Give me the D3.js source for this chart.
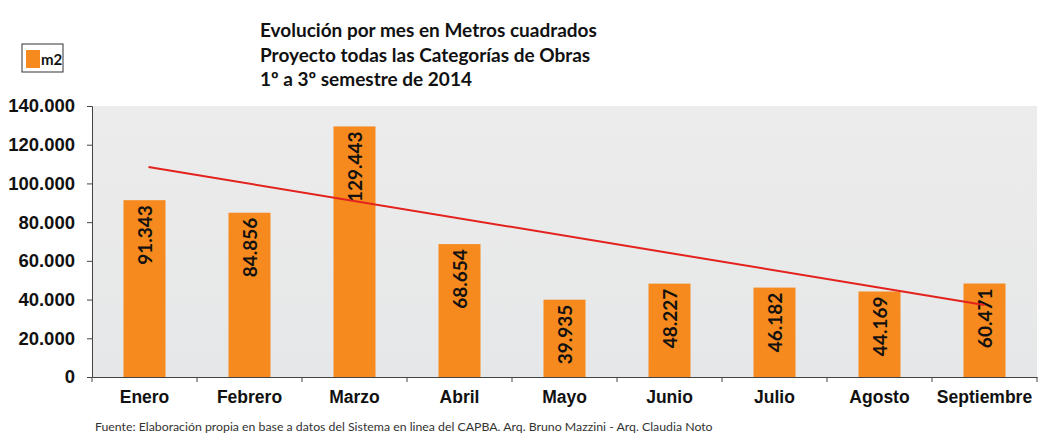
<!DOCTYPE html>
<html>
<head>
<meta charset="utf-8">
<script src="https://cdn.jsdelivr.net/npm/d3@7"></script>
<style>
  body { margin: 0; background: #fff; }
  svg { display: block; font-family: Lato, "Open Sans", sans-serif; }
</style>
</head>
<body>
<svg width="1064" height="440"></svg>
<script>
// months on the x axis
const months = ["Enero", "Febrero", "Marzo", "Abril", "Mayo", "Junio", "Julio", "Agosto", "Septiembre"]
// bar heights as drawn (m2)
const m2 = [91343, 84856, 129443, 68654, 39935, 48227, 46182, 44169, 48300]
// labels printed inside the bars
const barLabels = ["91.343", "84.856", "129.443", "68.654", "39.935", "48.227", "46.182", "44.169", "60.471"]
// trend line end points (first month, last month)
const trendMonths = ["Enero", "Septiembre"]
const trendValues = [108500, 37200]
const yTicks = [0, 20000, 40000, 60000, 80000, 100000, 120000, 140000]
const titleLines = ["Evolución por mes en Metros cuadrados", "Proyecto todas las Categorías de Obras", "1º a 3º semestre de 2014"]
const footer = "Fuente: Elaboración propia en base a datos del Sistema en linea del CAPBA. Arq. Bruno Mazzini - Arq. Claudia Noto"

const svg = d3.select('svg')
const plotL = 92, plotR = 1037, plotT = 106, plotB = 377

const x = d3.scaleBand().domain(months).range([plotL, plotR]).paddingInner(0.6).paddingOuter(0.3)
const xb = d3.scaleBand().domain(months).range([plotL, plotR])
const y = d3.scaleLinear().domain([0, 140000]).range([plotB, plotT])

const fmt = d => d === 0 ? "0" : d3.format(",")(d).replace(/,/g, ".")

// plot background
const grad = svg.append('defs').append('linearGradient').attr('id', 'bg').attr('x1', 0).attr('y1', 0).attr('x2', 0).attr('y2', 1)
grad.append('stop').attr('offset', '0%').attr('stop-color', '#ececec')
grad.append('stop').attr('offset', '100%').attr('stop-color', '#e6e7e8')
svg.append('rect')
  .attr('x', plotL).attr('y', plotT)
  .attr('width', plotR - plotL).attr('height', plotB - plotT)
  .attr('fill', 'url(#bg)')

// bars
svg.append('g').selectAll('rect')
  .data(m2)
  .join('rect')
  .attr('x', (d, i) => x(months[i]))
  .attr('y', d => y(d))
  .attr('width', x.bandwidth())
  .attr('height', d => plotB - y(d))
  .attr('fill', '#f68a1e')

// labels inside bars
svg.append('g').selectAll('text')
  .data(m2)
  .join('text')
  .attr('transform', (d, i) => `translate(${x(months[i]) + x.bandwidth() / 2 + 7},${y(d) + 5}) rotate(-90)`)
  .attr('text-anchor', 'end')
  .style('font-size', '19px')
  .style('font-weight', 'bold')
  .attr('fill', '#111')
  .text((d, i) => barLabels[i])

// trend line
svg.append('line')
  .attr('x1', xb(trendMonths[0]) + xb.bandwidth() / 2 + 4)
  .attr('y1', y(trendValues[0]))
  .attr('x2', xb(trendMonths[1]) + xb.bandwidth() / 2)
  .attr('y2', y(trendValues[1]))
  .attr('stroke', '#e3211d')
  .attr('stroke-width', 2)

// axes
const yAxis = svg.append('g')
  .attr('transform', `translate(${plotL},0)`)
  .call(d3.axisLeft(y).tickValues(yTicks).tickFormat(fmt).tickSize(5).tickPadding(12))
yAxis.select('.domain').attr('stroke', '#444')
yAxis.selectAll('.tick line').attr('stroke', '#444')
yAxis.selectAll('text').style('font-size', '18.5px').style('font-weight', 'bold').attr('fill', '#111')

const xAxis = svg.append('g')
  .attr('transform', `translate(0,${plotB})`)
  .call(d3.axisBottom(xb).tickSize(0).tickPadding(14))
xAxis.select('.domain').attr('stroke', '#444')
xAxis.selectAll('text').style('font-size', '17.5px').style('font-weight', 'bold').attr('fill', '#111')
// category separators
xAxis.selectAll('line.sep')
  .data(months.concat(["end"]))
  .join('line')
  .classed('sep', true)
  .attr('x1', (d, i) => plotL + i * xb.step())
  .attr('x2', (d, i) => plotL + i * xb.step())
  .attr('y1', 0).attr('y2', 5)
  .attr('stroke', '#444')

// title
svg.append('text')
  .attr('x', 260).attr('y', 37)
  .style('font-size', '19px').style('font-weight', 'bold').attr('fill', '#111')
  .selectAll('tspan')
  .data(titleLines)
  .join('tspan')
  .attr('x', 260)
  .attr('dy', (d, i) => i === 0 ? 0 : 24.5)
  .text(d => d)

// legend
const lg = svg.append('g')
lg.append('rect').attr('x', 22).attr('y', 44).attr('width', 41).attr('height', 28)
  .attr('fill', '#fff').attr('stroke', '#333').attr('stroke-width', 1)
lg.append('rect').attr('x', 26).attr('y', 50).attr('width', 14).attr('height', 18).attr('fill', '#f68a1e')
lg.append('text').attr('x', 41).attr('y', 65).text('m2')
  .style('font-size', '15px').style('font-weight', 'bold').attr('fill', '#111')

// footer
svg.append('text')
  .attr('x', 95).attr('y', 431)
  .style('font-size', '12.3px').attr('fill', '#333')
  .text(footer)
</script>
</body>
</html>
